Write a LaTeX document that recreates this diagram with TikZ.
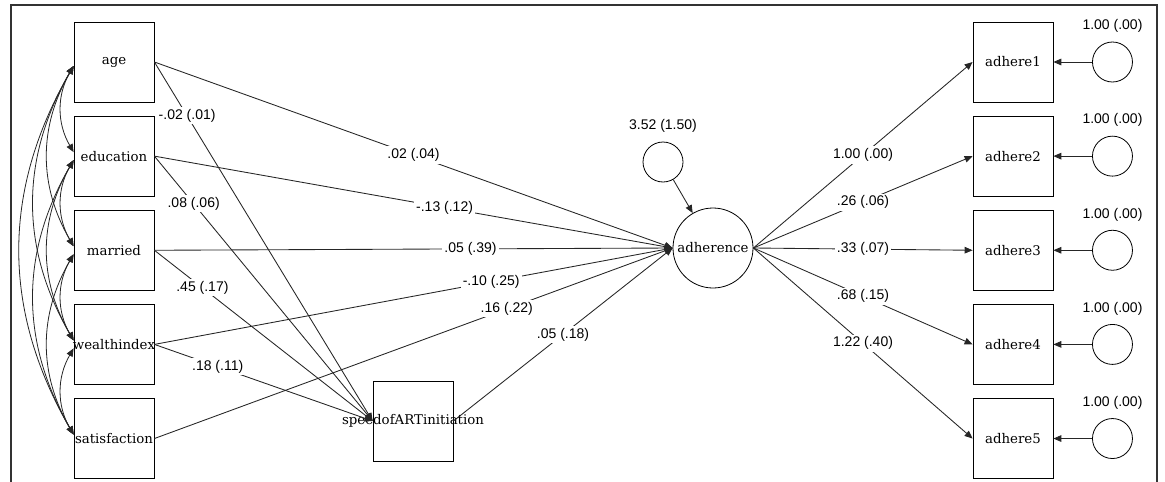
\documentclass[tikz,border=0pt]{standalone}
\usepackage{fontspec}
\usetikzlibrary{positioning,arrows.meta}
\setmainfont{DejaVu Serif}
\newfontfamily\numfont{Liberation Sans}
\newcommand{\vtext}[1]{\makebox[0pt]{#1}}

\begin{document}
\begin{tikzpicture}[
  x=0.75pt, y=-0.75pt,
  every node/.style={font=\fontsize{10}{12}\selectfont},
  var/.style={draw=black, line width=0.6pt, minimum size=60pt, inner sep=0pt},
  lat/.style={draw=black, line width=0.6pt, circle, minimum size=60pt, inner sep=0pt},
  err/.style={draw=black, line width=0.6pt, circle, minimum size=30pt, inner sep=0pt},
  coef/.style={fill=white, inner sep=1.5pt, font=\numfont\fontsize{10.5}{12}\selectfont},
  arr/.style={-{Triangle[length=6pt,width=5pt]}, line width=0.65pt, draw=black!85},
  cov/.style={{Triangle[length=6pt,width=5pt]}-{Triangle[length=6pt,width=5pt]}, line width=0.6pt, draw=black!85, bend right=30}
]
\useasboundingbox (0,0) rectangle (1165,482);
\draw[line width=1.2pt, black!80] (11,482) -- (11,5) -- (1157,5) -- (1157,482);

% Left column: observed exogenous variables
\node[var] (age) at (114,62) {age};
\node[var, below=10pt of age] (edu) {education};
\node[var, below=10pt of edu] (mar) {married};
\node[var, below=10pt of mar] (wealth) {\vtext{wealthindex}};
\node[var, below=10pt of wealth] (satis) {\vtext{satisfaction}};

% Mediator and latent factor
\node[var] (speed) at (413,421) {\vtext{speedofARTinitiation}};
\node[lat] (adh) at (713,248) {adherence};
\node[err] (eadh) at (663,162) {};
\node[coef, above=5pt of eadh] (veadh) {3.52 (1.50)};

% Right column: indicators and their errors
\node[var] (ad1) at (1013,62) {adhere1};
\node[var, below=10pt of ad1] (ad2) {adhere2};
\node[var, below=10pt of ad2] (ad3) {adhere3};
\node[var, below=10pt of ad3] (ad4) {adhere4};
\node[var, below=10pt of ad4] (ad5) {adhere5};
\node[err, right=29pt of ad1] (e1) {};
\node[err, right=29pt of ad2] (e2) {};
\node[err, right=29pt of ad3] (e3) {};
\node[err, right=29pt of ad4] (e4) {};
\node[err, right=29pt of ad5] (e5) {};
\node[coef, above=5pt of e1] (ve1) {1.00 (.00)};
\node[coef, above=5pt of e2] (ve2) {1.00 (.00)};
\node[coef, above=5pt of e3] (ve3) {1.00 (.00)};
\node[coef, above=5pt of e4] (ve4) {1.00 (.00)};
\node[coef, above=5pt of e5] (ve5) {1.00 (.00)};

% Covariances among exogenous variables
\draw[cov] ([yshift=-3pt]age.west) to ([yshift=3pt]edu.west);
\draw[cov] ([yshift=-3pt]age.west) to ([yshift=3pt]mar.west);
\draw[cov] ([yshift=-3pt]age.west) to ([yshift=3pt]wealth.west);
\draw[cov] ([yshift=-3pt]age.west) to ([yshift=3pt]satis.west);
\draw[cov] ([yshift=-3pt]edu.west) to ([yshift=3pt]mar.west);
\draw[cov] ([yshift=-3pt]edu.west) to ([yshift=3pt]wealth.west);
\draw[cov] ([yshift=-3pt]edu.west) to ([yshift=3pt]satis.west);
\draw[cov] ([yshift=-3pt]mar.west) to ([yshift=3pt]wealth.west);
\draw[cov] ([yshift=-3pt]mar.west) to ([yshift=3pt]satis.west);
\draw[cov] ([yshift=-3pt]wealth.west) to ([yshift=3pt]satis.west);

% Paths to adherence
\draw[arr] (age.east) -- node[coef, pos=0.5] {.02 (.04)} (adh.west);
\draw[arr] (edu.east) -- node[coef, pos=0.56] {-.13 (.12)} (adh.west);
\draw[arr] (mar.east) -- node[coef, pos=0.61] {.05 (.39)} (adh.west);
\draw[arr] (wealth.east) -- node[coef, pos=0.65] {-.10 (.25)} (adh.west);
\draw[arr] (satis.east) -- node[coef, pos=0.68] {.16 (.22)} (adh.west);

% Paths to speed of ART initiation
\draw[arr] (age.east) -- node[coef, pos=0.15] {-.02 (.01)} (speed.west);
\draw[arr] (edu.east) -- node[coef, pos=0.18] {.08 (.06)} (speed.west);
\draw[arr] (mar.east) -- node[coef, pos=0.22] {.45 (.17)} (speed.west);
\draw[arr] (wealth.east) -- node[coef, pos=0.29] {.18 (.11)} (speed.west);
\draw[arr] (speed.east) -- node[coef, pos=0.5] {.05 (.18)} (adh.west);

% Measurement part
\draw[arr] (eadh) -- (adh);
\draw[arr] (adh.east) -- node[coef] {1.00 (.00)} (ad1.west);
\draw[arr] (adh.east) -- node[coef] {.26 (.06)} (ad2.west);
\draw[arr] (adh.east) -- node[coef] {.33 (.07)} (ad3.west);
\draw[arr] (adh.east) -- node[coef] {.68 (.15)} (ad4.west);
\draw[arr] (adh.east) -- node[coef] {1.22 (.40)} (ad5.west);
\draw[arr] (e1) -- (ad1);
\draw[arr] (e2) -- (ad2);
\draw[arr] (e3) -- (ad3);
\draw[arr] (e4) -- (ad4);
\draw[arr] (e5) -- (ad5);
\end{tikzpicture}
\end{document}
